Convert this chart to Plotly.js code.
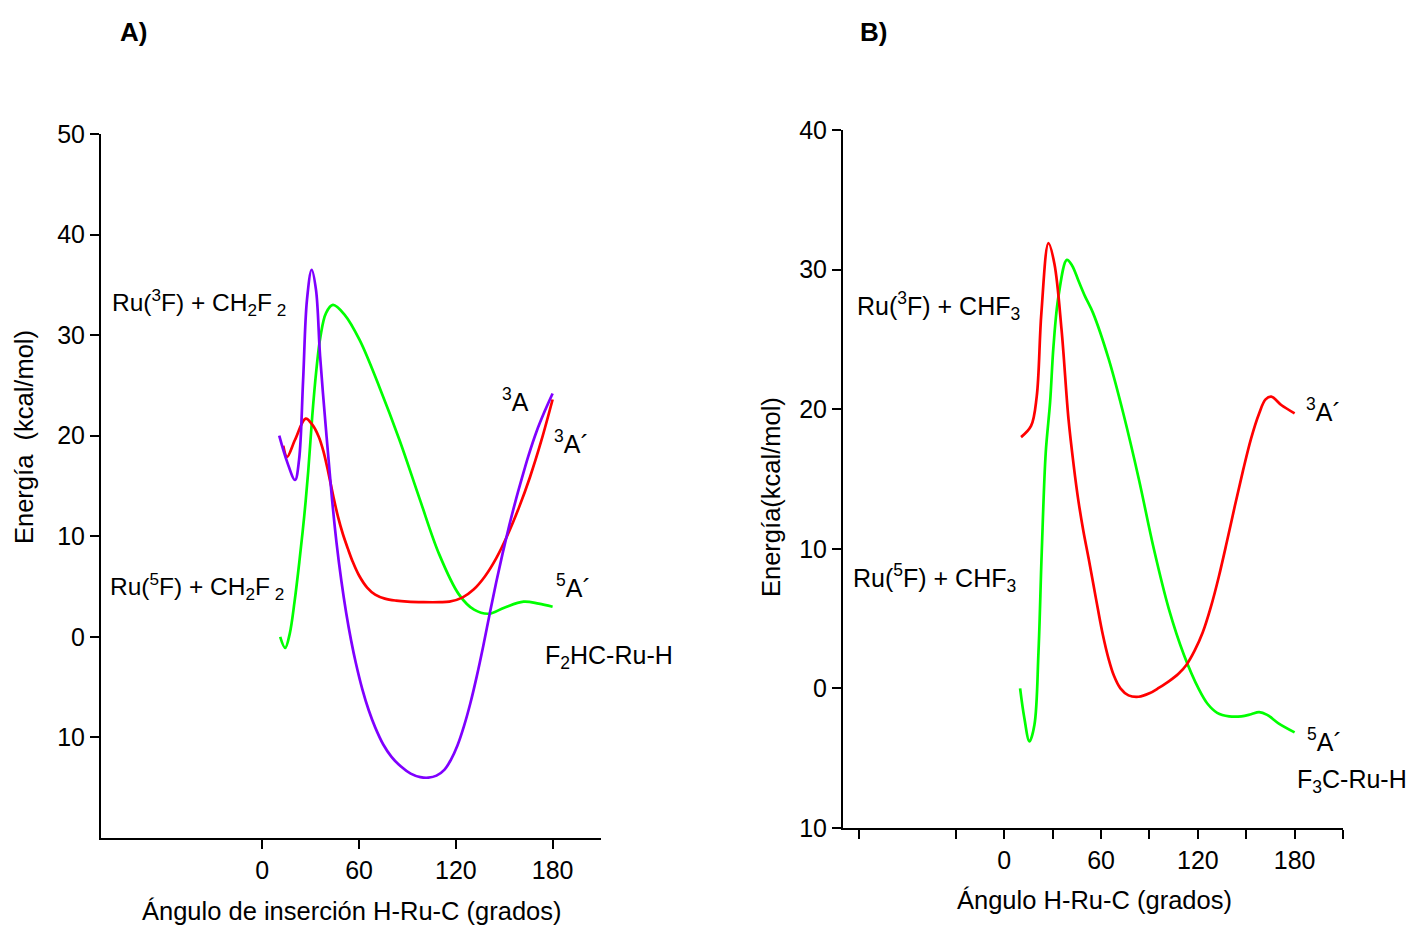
<!DOCTYPE html>
<html>
<head>
<meta charset="utf-8">
<script src="https://cdn.plot.ly/plotly-3.0.1.min.js"></script>
<style>html,body{margin:0;padding:0;background:#fff;}#chart{width:1409px;height:927px;}</style>
</head>
<body>
<div id="chart"></div>
<script>
// Panel A: Ru + CH2F2
const aPurpleX = [10.5, 15.4, 20.3, 22.8, 25.3, 27.7, 30.6, 33.3, 35.8, 39.5, 43, 46, 49, 52, 55, 58, 62, 66, 70, 75, 80, 86, 92, 98, 103, 108, 113, 117, 121, 125, 129, 133, 137, 141, 145, 149, 153, 157, 161, 165, 170, 175, 180];
const aPurpleY = [20, 17.4, 15.6, 17.6, 25.5, 33.5, 36.5, 34.5, 28, 20.6, 14.1, 9.4, 5.6, 2.4, -0.3, -2.6, -5.2, -7.3, -9.0, -10.7, -11.9, -12.9, -13.6, -13.95, -14, -13.8, -13.2, -12.2, -10.8, -8.9, -6.6, -3.9, -0.9, 2.3, 5.4, 8.3, 11.0, 13.5, 15.8, 18.0, 20.4, 22.4, 24.2];
const aRedX = [13, 15.4, 20.3, 26.9, 31, 35, 38, 41, 44, 47, 50, 53, 56, 60, 65, 70, 76, 83, 90, 100, 110, 116, 124, 131, 138, 145, 152, 159, 166, 173, 180];
const aRedY = [19.0, 17.9, 19.6, 21.7, 21.1, 19.9, 18.4, 16.3, 14.0, 11.9, 10.2, 8.8, 7.5, 6.1, 4.9, 4.2, 3.8, 3.6, 3.5, 3.45, 3.45, 3.5, 3.9, 4.7, 6.0, 7.8, 10.1, 12.8, 15.9, 19.5, 23.6];
const aGreenX = [11.1, 14.2, 17, 20, 23, 26, 28.5, 31, 33.5, 36, 39.5, 43.8, 51.2, 60.4, 72.7, 85, 97.4, 109.7, 122, 131.3, 140.6, 150, 162, 171.4, 180];
const aGreenY = [0, -1.1, 0.3, 3.5, 7.5, 12, 16.5, 22, 26.5, 29.8, 32.2, 33, 32, 29.5, 24.8, 19.6, 13.8, 8.2, 4.2, 2.7, 2.3, 2.9, 3.5, 3.3, 3.0];

// Panel B: Ru + CHF3
const bRedX = [10.4, 16.6, 20.1, 23.0, 27.4, 31.1, 35.5, 39.8, 43, 46, 49, 52.3, 55, 58, 61, 64.7, 68, 72, 77, 83.4, 90, 96, 102, 108, 113, 118, 123, 128, 133, 138, 143, 148, 153, 158, 162, 165.5, 171.7, 180];
const bRedY = [18.0, 18.8, 20.9, 26.9, 31.9, 30.4, 25.7, 19.3, 16.0, 13.4, 11.3, 9.3, 7.6, 5.7, 3.9, 2.1, 0.9, 0.0, -0.5, -0.6, -0.35, 0.05, 0.5, 1.05, 1.7, 2.7, 4.0, 5.8, 8.0, 10.5, 13.1, 15.6, 17.9, 19.7, 20.7, 20.9, 20.3, 19.7];
const bGreenX = [9.8, 12.4, 15.6, 18.7, 21.2, 23.2, 25.7, 28.4, 30.5, 33.6, 38.8, 42, 46, 50, 55, 64.7, 74, 83.4, 92.7, 102, 111.4, 120.7, 126, 132, 139.4, 147, 153, 158, 163, 170, 180];
const bGreenY = [0, -2.1, -3.8, -2.6, 2.6, 9.7, 16.9, 20.5, 24.5, 28.1, 30.7, 30.3, 29.2, 28.1, 26.9, 23.6, 19.6, 15, 10, 5.7, 2.4, -0.07, -1.1, -1.75, -2.0, -2.0, -1.85, -1.7, -1.9, -2.5, -3.15];

// Tick labels
const aXTickVals = [0, 60, 120, 180];
const aYTickVals = [-10, 0, 10, 20, 30, 40, 50];
const aYTickText = ['10', '0', '10', '20', '30', '40', '50'];
const bXTickVals = [-90, -30, 0, 30, 60, 90, 120, 150, 180, 210];
const bXTickText = ['', '', '0', '', '60', '', '120', '', '180', ''];
const bYTickVals = [-10, 0, 10, 20, 30, 40];
const bYTickText = ['10', '0', '10', '20', '30', '40'];

const PURPLE = '#7f00ff', RED = '#ff0000', GREEN = '#00ff00';
const FONT = 'Liberation Sans, Arial, sans-serif';
const W = 1409, H = 927;
const px = v => v / W;
const py = v => 1 - v / H;

function line(x, y, color, xa, ya) {
  return {x: x, y: y, xaxis: xa, yaxis: ya, type: 'scatter', mode: 'lines',
    line: {color: color, width: 2.7, shape: 'spline', smoothing: 1.0},
    hoverinfo: 'skip', showlegend: false};
}

const data = [
  line(aGreenX, aGreenY, GREEN, 'x', 'y'),
  line(aRedX, aRedY, RED, 'x', 'y'),
  line(aPurpleX, aPurpleY, PURPLE, 'x', 'y'),
  line(bGreenX, bGreenY, GREEN, 'x2', 'y2'),
  line(bRedX, bRedY, RED, 'x2', 'y2')
];

const axBase = {
  showgrid: false, zeroline: false, showline: true, linecolor: '#000', linewidth: 2,
  ticks: 'outside', ticklen: 9, tickwidth: 2, tickcolor: '#000',
  tickfont: {family: FONT, size: 25, color: '#000'}, tickmode: 'array', fixedrange: true
};

function ann(text, x, y, opts) {
  return Object.assign({text: text, x: px(x), y: py(y), xref: 'paper', yref: 'paper',
    xanchor: 'left', yanchor: 'middle', showarrow: false,
    font: {family: FONT, size: 25, color: '#000'}}, opts || {});
}
const titleFont = {family: FONT, size: 25.5, color: '#000'};

const layout = {
  width: W, height: H, margin: {l: 0, r: 0, t: 0, b: 0},
  paper_bgcolor: '#fff', plot_bgcolor: 'rgba(0,0,0,0)', showlegend: false,
  xaxis: Object.assign({}, axBase, {domain: [px(101), px(601)], range: [-100, 210], anchor: 'y',
    tickvals: aXTickVals, ticktext: aXTickVals.map(String)}),
  yaxis: Object.assign({}, axBase, {domain: [py(838), py(134)], range: [-20, 50], anchor: 'x',
    tickvals: aYTickVals, ticktext: aYTickText}),
  xaxis2: Object.assign({}, axBase, {domain: [px(843), px(1343)], range: [-100, 210], anchor: 'y2',
    tickvals: bXTickVals, ticktext: bXTickText}),
  yaxis2: Object.assign({}, axBase, {domain: [py(828), py(130)], range: [-10, 40], anchor: 'x2',
    tickvals: bYTickVals, ticktext: bYTickText}),
  annotations: [
    ann('<b>A)</b>', 118, 32, {font: {family: FONT, size: 26, color: '#000'}}),
    ann('<b>B)</b>', 858, 32, {font: {family: FONT, size: 26, color: '#000'}}),
    ann('Ru(<sup>3</sup>F) + CH<sub>2</sub>F<sub> 2</sub>', 110, 302, {font: {family: FONT, size: 24.5, color: '#000'}}),
    ann('Ru(<sup>5</sup>F) + CH<sub>2</sub>F<sub> 2</sub>', 108, 586, {font: {family: FONT, size: 24.5, color: '#000'}}),
    ann('<sup>3</sup>A', 500, 400),
    ann('<sup>3</sup>A´', 552, 442),
    ann('<sup>5</sup>A´', 554, 586),
    ann('F<sub>2</sub>HC-Ru-H', 543, 657),
    ann('Ru(<sup>3</sup>F) + CHF<sub>3</sub>', 855, 306),
    ann('Ru(<sup>5</sup>F) + CHF<sub>3</sub>', 851, 578),
    ann('<sup>3</sup>A´', 1304, 410),
    ann('<sup>5</sup>A´', 1305, 740),
    ann('F<sub>3</sub>C-Ru-H', 1295, 781),
    ann('Ángulo de inserción H-Ru-C (grados)', 352, 911, {xanchor: 'center', font: titleFont}),
    ann('Ángulo H-Ru-C (grados)', 1094, 900, {xanchor: 'center', font: titleFont}),
    ann('Energía  (kcal/mol)', 24, 437, {xanchor: 'center', textangle: -90, font: titleFont}),
    ann('Energía(kcal/mol)', 771, 497, {xanchor: 'center', textangle: -90, font: titleFont})
  ]
};

Plotly.newPlot('chart', data, layout, {staticPlot: true, displayModeBar: false});
</script>
</body>
</html>
